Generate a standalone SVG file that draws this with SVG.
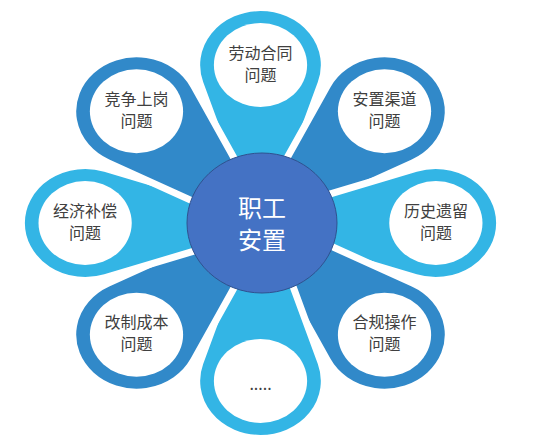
<svg xmlns="http://www.w3.org/2000/svg" xmlns:xlink="http://www.w3.org/1999/xlink" width="535" height="443" viewBox="0 0 535 443">
<style>
.light{fill:#33b5e5}
.dark{fill:#3189c9}
.hole{fill:#ffffff}
.lbl{font-family:"Noto Sans CJK SC","Noto Sans",sans-serif;font-size:16px;fill:#404040;text-anchor:middle}
.ctr{font-family:"Noto Sans CJK SC","Noto Sans",sans-serif;font-size:24px;fill:#ffffff;text-anchor:middle}
</style>
<defs>
<path id="petal" d="M -14.9,-20 L -54.6,-139.9 A 57.5 57.5 0 1 1 54.6,-139.9 L 14.9,-20 Z" stroke="#ffffff" stroke-width="7" vector-effect="non-scaling-stroke"/>
</defs>
<g id="n0">
<g transform="translate(260.5,223) scale(1.11,1) rotate(0)"><use xlink:href="#petal" class="light"/><circle cx="0" cy="-158" r="42" class="hole"/></g>
<text class="lbl"><tspan x="260.5" y="58.5">劳动合同</tspan><tspan x="260.5" y="80.5">问题</tspan></text>
</g>
<g id="n1">
<g transform="translate(260.5,223) scale(1.11,1) rotate(45)"><use xlink:href="#petal" class="dark"/><circle cx="0" cy="-158" r="42" class="hole"/></g>
<text class="lbl"><tspan x="384.6" y="105">安置渠道</tspan><tspan x="384.6" y="127">问题</tspan></text>
</g>
<g id="n2">
<g transform="translate(260.5,223) scale(1.11,1) rotate(90)"><use xlink:href="#petal" class="light"/><circle cx="0" cy="-158" r="42" class="hole"/></g>
<text class="lbl"><tspan x="435.9" y="216.5">历史遗留</tspan><tspan x="435.9" y="238.5">问题</tspan></text>
</g>
<g id="n3">
<g transform="translate(260.5,223) scale(1.11,1) rotate(135)"><use xlink:href="#petal" class="dark"/><circle cx="0" cy="-158" r="42" class="hole"/></g>
<text class="lbl"><tspan x="384.6" y="328">合规操作</tspan><tspan x="384.6" y="350">问题</tspan></text>
</g>
<g id="n4">
<g transform="translate(260.5,223) scale(1.11,1) rotate(180)"><use xlink:href="#petal" class="light"/><circle cx="0" cy="-158" r="42" class="hole"/></g>
<text class="lbl" x="260.5" y="390">.....</text>
</g>
<g id="n5">
<g transform="translate(260.5,223) scale(1.11,1) rotate(225)"><use xlink:href="#petal" class="dark"/><circle cx="0" cy="-158" r="42" class="hole"/></g>
<text class="lbl"><tspan x="136.4" y="328">改制成本</tspan><tspan x="136.4" y="350">问题</tspan></text>
</g>
<g id="n6">
<g transform="translate(260.5,223) scale(1.11,1) rotate(270)"><use xlink:href="#petal" class="light"/><circle cx="0" cy="-158" r="42" class="hole"/></g>
<text class="lbl"><tspan x="85.1" y="216.5">经济补偿</tspan><tspan x="85.1" y="238.5">问题</tspan></text>
</g>
<g id="n7">
<g transform="translate(260.5,223) scale(1.11,1) rotate(315)"><use xlink:href="#petal" class="dark"/><circle cx="0" cy="-158" r="42" class="hole"/></g>
<text class="lbl"><tspan x="136.4" y="105">竞争上岗</tspan><tspan x="136.4" y="127">问题</tspan></text>
</g>
<g id="center">
<ellipse cx="262" cy="223" rx="75" ry="70" fill="#4472c4" stroke="#2f528f" stroke-width="1"/>
<text class="ctr"><tspan x="262" y="217">职工</tspan><tspan x="262" y="249">安置</tspan></text>
</g>
</svg>
